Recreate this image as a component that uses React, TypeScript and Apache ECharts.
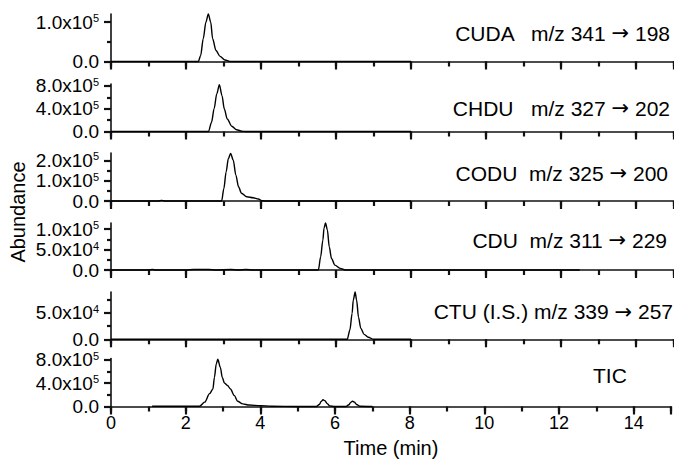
import React, { useEffect, useRef } from 'react';
import * as echarts from 'echarts';

// ---- data ----
const xMajorStep = 2;
const xMinorStep = 1;
const xMaxLabel = 14;

const panelTitles = [
  'CUDA   m/z 341 {a|\u2192} 198',
  'CHDU   m/z 327 {a|\u2192} 202',
  'CODU  m/z 325 {a|\u2192} 200',
  'CDU  m/z 311 {a|\u2192} 229',
  'CTU (I.S.) m/z 339 {a|\u2192} 257',
  'TIC',
];

const yMaxima = [1.21e5, 8.33e5, 2.37e5, 1.15e5, 0.895e5, 8.23e5];
const yMajorTicks = [[0, 1e5], [0, 4e5, 8e5], [0, 1e5, 2e5], [0, 5e4, 1e5], [0, 5e4], [0, 4e5, 8e5]];
const yMinorTicks = [[0.5e5], [2e5, 6e5], [0.5e5, 1.5e5], [2.5e4, 7.5e4], [2.5e4, 7.5e4], [2e5, 6e5]];

const cudaTime = [0, 1.0, 2.0, 2.33, 2.39, 2.46, 2.53, 2.595, 2.66, 2.71, 2.8, 2.91, 3.04, 3.17, 4.0, 6.0, 8.0];
const cudaAbund = [0, 0, 0, 0, 0.15e5, 0.58e5, 1.0e5, 1.21e5, 1.0e5, 0.58e5, 0.28e5, 0.13e5, 0.04e5, 0, 0, 0, 0];
const chduTime = [0, 2.0, 2.6, 2.68, 2.75, 2.82, 2.89, 2.96, 3.02, 3.1, 3.22, 3.35, 3.49, 3.6, 5.0, 8.0];
const chduAbund = [0, 0, 0, 1.6e5, 4.0e5, 6.6e5, 8.2e5, 6.3e5, 4.0e5, 2.2e5, 0.93e5, 0.3e5, 0.05e5, 0, 0, 0];
const coduTime = [0, 1.25, 1.35, 1.45, 2.95, 3.01, 3.07, 3.13, 3.19, 3.26, 3.33, 3.4, 3.48, 3.62, 3.79, 3.93, 4.02, 4.1, 8.0];
const coduAbund = [0, 0, 0.03e5, 0, 0, 0.62e5, 1.44e5, 2.1e5, 2.35e5, 2.02e5, 1.28e5, 0.7e5, 0.38e5, 0.21e5, 0.16e5, 0.1e5, 0.02e5, 0, 0];
const cduTime = [0, 1.0, 1.1, 1.2, 2.0, 2.2, 2.6, 2.8, 3.2, 3.4, 3.6, 3.8, 5.53, 5.59, 5.65, 5.68, 5.72, 5.77, 5.82, 5.88, 5.97, 6.11, 6.25, 8.0, 12.5];
const cduAbund = [0, 0, 0.012e5, 0, 0, 0.012e5, 0.012e5, 0, 0.012e5, 0, 0.012e5, 0, 0, 0.32e5, 0.73e5, 1.02e5, 1.15e5, 0.98e5, 0.57e5, 0.28e5, 0.12e5, 0.04e5, 0, 0, 0];
const ctuTime = [0, 6.3, 6.37, 6.43, 6.46, 6.51, 6.55, 6.6, 6.66, 6.75, 6.86, 7.0, 8.0];
const ctuAbund = [0, 0, 0.175e5, 0.49e5, 0.74e5, 0.895e5, 0.74e5, 0.42e5, 0.21e5, 0.094e5, 0.04e5, 0, 0];
const ticTime = [1.1, 2.0, 2.37, 2.51, 2.64, 2.73, 2.77, 2.82, 2.86, 2.93, 2.98, 3.04, 3.12, 3.2, 3.3, 3.39, 3.53, 3.7, 4.0, 4.3, 5.0, 5.5, 5.58, 5.63, 5.68, 5.73, 5.79, 5.86, 6.0, 6.3, 6.37, 6.42, 6.47, 6.52, 6.58, 6.66, 7.0];
const ticAbund = [0.05e5, 0.05e5, 0.05e5, 0.75e5, 2.2e5, 3.0e5, 5.0e5, 7.3e5, 8.1e5, 6.7e5, 5.0e5, 4.0e5, 3.6e5, 3.0e5, 1.9e5, 0.9e5, 0.45e5, 0.25e5, 0.15e5, 0.05e5, 0, 0, 0.35e5, 0.85e5, 1.15e5, 1.0e5, 0.5e5, 0.1e5, 0, 0, 0.3e5, 0.7e5, 0.9e5, 0.75e5, 0.35e5, 0.05e5, 0];

const seriesTimes = [cudaTime, chduTime, coduTime, cduTime, ctuTime, ticTime];
const seriesAbunds = [cudaAbund, chduAbund, coduAbund, cduAbund, ctuAbund, ticAbund];

// ---- layout ----
const gridTops = [14, 84, 153, 223, 292, 358.5];
const gridHeights = [47.5, 47.5, 48, 47, 47.3, 48];
const titlePos: { x: number; y: number; align: 'left' | 'right' }[] = [
  { x: 670, y: 33, align: 'right' },
  { x: 670, y: 108, align: 'right' },
  { x: 668, y: 173, align: 'right' },
  { x: 667, y: 240, align: 'right' },
  { x: 673, y: 311.5, align: 'right' },
  { x: 593, y: 375, align: 'left' },
];

const FONT = '"Liberation Sans", Arial, Helvetica, sans-serif';
const INK = '#111111';

const fmtY = (v: number) => {
  if (v === 0) return '0.0';
  const e = Math.floor(Math.log10(v) + 1e-9);
  const m = (v / Math.pow(10, e)).toFixed(1);
  return `{m|${m}x10}{e|${e}}`;
};

export default function App() {
  const ref = useRef<HTMLDivElement>(null);
  useEffect(() => {
    const chart = echarts.init(ref.current!, null, { renderer: 'svg' });
    const n = 6;
    const grids: any[] = [];
    const xAxes: any[] = [];
    const yAxes: any[] = [];
    const series: any[] = [];
    for (let i = 0; i < n; i++) grids.push({ left: 111, right: 0.5, top: gridTops[i], height: gridHeights[i] });
    // minor x ticks (every minute)
    for (let i = 0; i < n; i++) {
      xAxes.push({
        type: 'value', gridIndex: i, position: 'bottom', min: 0, max: 15, interval: xMinorStep,
        axisLine: { show: false, onZero: false },
        axisTick: { show: true, inside: false, length: 5, lineStyle: { color: INK, width: 2.2 } },
        axisLabel: { show: false }, splitLine: { show: false },
      });
    }
    // major x axis
    for (let i = 0; i < n; i++) {
      const last = i === n - 1;
      xAxes.push({
        type: 'value', gridIndex: i, position: 'bottom', min: 0, max: 15, interval: xMajorStep,
        axisLine: { show: true, onZero: false, lineStyle: { color: INK, width: 1.6 } },
        axisTick: { show: true, inside: false, length: 8, lineStyle: { color: INK, width: 2.2 } },
        axisLabel: {
          show: last, margin: 7, fontSize: 18, fontFamily: FONT, color: '#000',
          formatter: (v: number) => (v > xMaxLabel ? '' : String(v)),
        },
        splitLine: { show: false },
        name: last ? 'Time (min)' : '', nameLocation: 'middle', nameGap: 31.5,
        nameTextStyle: { fontSize: 20, fontFamily: FONT, color: '#000' },
      });
    }
    for (let i = 0; i < n; i++) {
      yAxes.push({
        type: 'value', gridIndex: i, position: 'left', min: 0, max: yMaxima[i],
        axisLine: { show: true, onZero: false, lineStyle: { color: INK, width: 1.6 } },
        axisTick: { show: true, inside: false, length: 7, customValues: yMajorTicks[i], lineStyle: { color: INK, width: 2.2 } },
        axisLabel: {
          show: true, customValues: yMajorTicks[i], margin: 12, fontSize: 19, fontFamily: FONT, color: '#000',
          formatter: fmtY,
          rich: {
            m: { fontSize: 19, fontFamily: FONT, color: '#000', lineHeight: 19 },
            e: { fontSize: 11, fontFamily: FONT, color: '#000', verticalAlign: 'top', lineHeight: 11 },
          },
        },
        splitLine: { show: false },
      });
    }
    for (let i = 0; i < n; i++) {
      yAxes.push({
        type: 'value', gridIndex: i, position: 'left', min: 0, max: yMaxima[i],
        axisLine: { show: false, onZero: false },
        axisTick: { show: true, inside: false, length: 4, customValues: yMinorTicks[i], lineStyle: { color: INK, width: 2.2 } },
        axisLabel: { show: false }, splitLine: { show: false },
      });
    }
    for (let i = 0; i < n; i++) {
      const t = seriesTimes[i];
      const a = seriesAbunds[i];
      series.push({
        type: 'line', name: panelTitles[i], xAxisIndex: n + i, yAxisIndex: i,
        data: t.map((x, k) => [x, a[k]]), showSymbol: false, smooth: 0.3, smoothMonotone: 'x',
        lineStyle: { color: '#000', width: 1.4 }, clip: false,
      });
    }
    const graphic: any[] = panelTitles.map((txt, i) => ({
      type: 'text', x: titlePos[i].x, y: titlePos[i].y,
      style: {
        text: txt, fontSize: 21, fontFamily: FONT, fill: '#000', align: titlePos[i].align, verticalAlign: 'middle',
        rich: { a: { fontSize: 21, fontFamily: '"DejaVu Sans", sans-serif', fill: '#000' } },
      },
    }));
    graphic.push({
      type: 'text', x: 18, y: 212, rotation: Math.PI / 2,
      style: { text: 'Abundance', fontSize: 20, fontFamily: FONT, fill: '#000', align: 'center', verticalAlign: 'middle' },
    });
    chart.setOption({ animation: false, backgroundColor: '#fff', grid: grids, xAxis: xAxes, yAxis: yAxes, series, graphic });
    return () => chart.dispose();
  }, []);
  return <div ref={ref} style={{ position: 'fixed', left: 0, top: 0, width: 674, height: 468 }} />;
}
